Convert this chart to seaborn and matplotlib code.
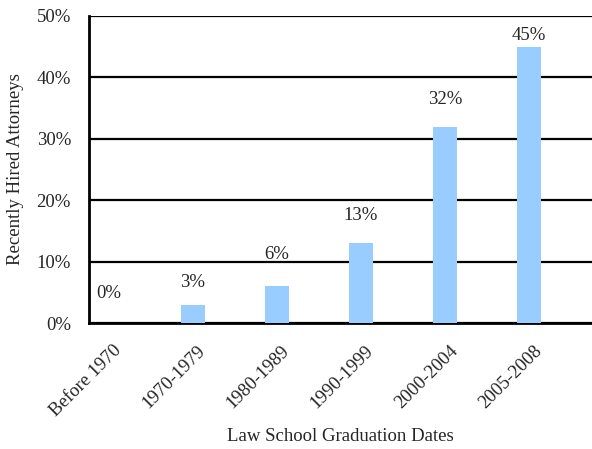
import numpy as np
import pandas as pd
import matplotlib
matplotlib.use("Agg")
import matplotlib.pyplot as plt
import seaborn as sns

periods = ["Before 1970", "1970-1979", "1980-1989", "1990-1999", "2000-2004", "2005-2008"]
share = [0, 3, 6, 13, 32, 45]
label_pad = [30, 22, 32, 28, 27, 11]  # pixel gap between bar top and its label

sns.set_style("white")
plt.rcParams['font.family'] = ['Liberation Serif', 'DejaVu Serif']

df = pd.DataFrame({"period": periods, "share": share})
fs = 13.5

fig = plt.figure(figsize=(5.92, 4.49), dpi=100)
ax = fig.add_axes([89 / 592, 126 / 449, 503 / 592, 307 / 449])

sns.barplot(data=df, x="period", y="share", color="#99CCFF", saturation=1,
            width=0.275, linewidth=0, ax=ax, zorder=3)

ax.set_ylim(0, 50)
ax.set_xlim(-0.238, 5.75)
ax.set_yticks(np.arange(0, 51, 10))
ax.set_yticklabels([f"{v}%" for v in range(0, 51, 10)], fontsize=fs)
ax.yaxis.grid(True, color="black", linewidth=1.6, zorder=1)
ax.set_axisbelow(True)

ax.set_xticks(np.arange(len(periods)) + 0.12)
ax.set_xticklabels(periods, rotation=45, ha="right", va="center",
                   rotation_mode="anchor", fontsize=fs)
ax.tick_params(axis="both", length=0)
ax.tick_params(axis="y", pad=13)
ax.tick_params(axis="x", pad=18)

for s in ["top", "right"]:
    ax.spines[s].set_visible(False)
for s in ["left", "bottom"]:
    ax.spines[s].set_color("black")
    ax.spines[s].set_linewidth(2)

for i, (v, p) in enumerate(zip(share, label_pad)):
    ax.annotate(f"{v}%", (i, v), xytext=(0, p * 0.72), textcoords="offset points",
                ha="center", va="center", fontsize=fs)

ax.set_xlabel("Law School Graduation Dates", fontsize=fs, va="center")
ax.set_ylabel("Recently Hired Attorneys", fontsize=fs, va="center")
ax.xaxis.set_label_coords(0.5, -0.371)
ax.yaxis.set_label_coords(-0.147, 0.5)

fig.savefig("out.png", dpi=100)
